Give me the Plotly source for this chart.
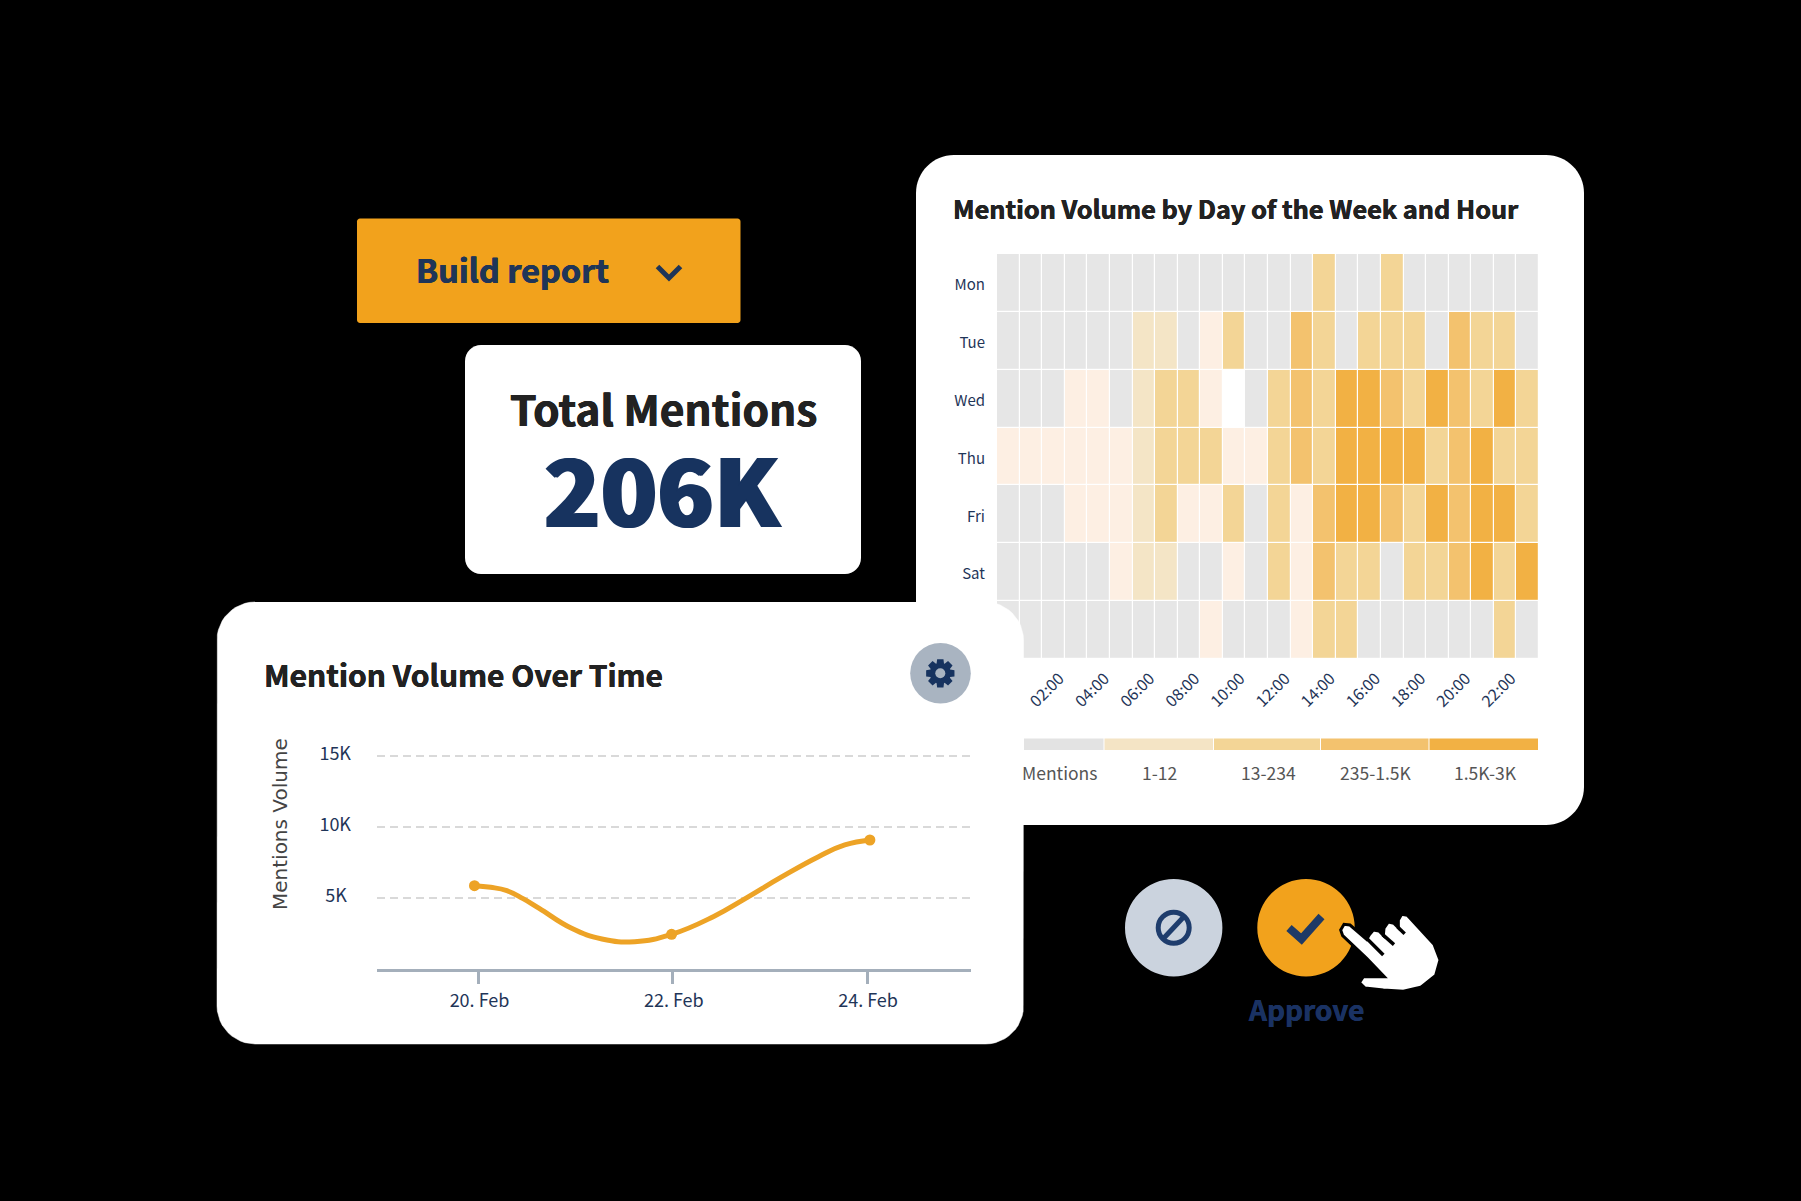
import math
import plotly.graph_objects as go

W, H = 1801, 1201
FONT = "Noto Sans CJK SC"
NAVY = "#1F3558"
DARK_NAVY = "#17335F"
INK = "#222222"
ORANGE = "#F2A21C"

# ---- heatmap data: colour class per hour (-1 none, 0 no mentions, 1 trace, 2..5 legend classes)
days = ["Mon", "Tue", "Wed", "Thu", "Fri", "Sat", "Sun"]
hours = list(range(24))
mon = [0,0,0,0,0,0,0,0,0,0,0,0,0,0,3,0,0,3,0,0,0,0,0,0]
tue = [0,0,0,0,0,0,2,2,0,1,3,0,0,4,3,0,3,3,3,0,4,3,3,0]
wed = [0,0,0,1,1,0,2,3,3,1,-1,0,3,4,3,5,5,4,3,5,4,3,5,3]
thu = [1,1,1,1,1,1,2,3,3,3,1,1,3,4,3,5,5,5,5,3,4,5,3,3]
fri = [0,0,0,1,1,1,2,3,1,1,3,0,3,1,4,5,5,4,3,5,4,5,5,3]
sat = [0,0,0,0,0,1,2,2,0,0,1,0,3,1,4,3,3,0,3,3,4,5,3,5]
sun = [0,0,0,0,0,0,0,0,0,1,0,0,0,1,3,3,0,0,0,0,0,0,3,0]
class_colors = ["#FFFFFF", "#E6E6E6", "#FDEFE3", "#F4E5C6", "#F3D596", "#F3C26E", "#F2B144"]
shown_days = ["Mon", "Tue", "Wed", "Thu", "Fri", "Sat"]
hour_ticks = [2, 4, 6, 8, 10, 12, 14, 16, 18, 20, 22]
hour_labels = ["02:00", "04:00", "06:00", "08:00", "10:00", "12:00", "14:00", "16:00", "18:00", "20:00", "22:00"]

# ---- heatmap legend
legend_labels = ["Mentions", "1-12", "13-234", "235-1.5K", "1.5K-3K"]
legend_colors = ["#E3E3E3", "#F4E4C5", "#F3D596", "#F3C26E", "#F2B144"]

# ---- line chart data
line_dates = ["2024-02-19 23:00", "2024-02-20 03:00", "2024-02-20 07:00", "2024-02-20 11:00",
              "2024-02-20 15:00", "2024-02-20 23:00",
              "2024-02-21 06:30", "2024-02-21 14:36", "2024-02-21 23:42", "2024-02-22 10:00",
              "2024-02-22 18:00", "2024-02-23 03:00", "2024-02-23 12:00", "2024-02-23 18:30",
              "2024-02-24 00:42"]
line_values = [5873, 5758, 5522, 4960, 4281, 2878, 2128, 1940, 2455, 3696, 4985, 6505, 7909, 8730, 9080]
marker_dates = ["2024-02-19 23:00", "2024-02-21 23:42", "2024-02-24 00:42"]
marker_values = [5873, 2455, 9080]
date_ticks = ["2024-02-20", "2024-02-22", "2024-02-24"]
value_ticks = [5000, 10000, 15000]
value_labels = ["5K\u00a0", "10K", "15K"]


def px(x):
    return x / W


def py(y):
    return 1 - y / H


def rr_points(x0, y0, x1, y1, r):
    """Rounded rectangle as a path string in paper coordinates."""
    k = 0.45 * r
    seq = [
        ("M", (x0 + r, y0)), ("L", (x1 - r, y0)),
        ("C", (x1 - k, y0), (x1, y0 + k), (x1, y0 + r)), ("L", (x1, y1 - r)),
        ("C", (x1, y1 - k), (x1 - k, y1), (x1 - r, y1)), ("L", (x0 + r, y1)),
        ("C", (x0 + k, y1), (x0, y1 - k), (x0, y1 - r)), ("L", (x0, y0 + r)),
        ("C", (x0, y0 + k), (x0 + k, y0), (x0 + r, y0)),
    ]
    return seq


def to_path(seq, close=True):
    out = []
    for item in seq:
        cmd, pts = item[0], item[1:]
        out.append(cmd + " " + " ".join(f"{px(a):.5f},{py(b):.5f}" for a, b in pts))
    return " ".join(out) + (" Z" if close else "")


def poly(points, close=True):
    seq = [("M", points[0])] + [("L", p) for p in points[1:]]
    return to_path(seq, close)


def card(x0, y0, x1, y1, r, color, layer="below"):
    return dict(type="path", xref="paper", yref="paper", path=to_path(rr_points(x0, y0, x1, y1, r)),
                fillcolor=color, line=dict(width=0), layer=layer)


def circle(cx, cy, r, color, line=None):
    return dict(type="circle", xref="paper", yref="paper", x0=px(cx - r), x1=px(cx + r),
                y0=py(cy + r), y1=py(cy - r), fillcolor=color,
                line=line or dict(width=0), layer="above")


def stroke(points, color, width):
    return dict(type="path", xref="paper", yref="paper", path=poly(points, close=False),
                line=dict(color=color, width=width), layer="above")


def text(x, y, s, size, color=INK, weight=400, anchor="center", family=FONT, angle=0, shadow=None):
    font = dict(family=family, size=size, color=color, weight=weight)
    if shadow:
        font["shadow"] = f"{shadow}px 0 0 {color}, -{shadow}px 0 0 {color}"
    return dict(x=px(x), y=py(y), xref="paper", yref="paper", text=s, showarrow=False,
                xanchor=anchor, yanchor="middle", textangle=angle, font=font)


fig = go.Figure()

# heatmap (first subplot)
fig.add_trace(go.Heatmap(
    z=[mon, tue, wed, thu, fri, sat, sun], x=hours, y=days,
    zmin=-1.5, zmax=5.5, showscale=False, xgap=1.2, ygap=1.2, hoverinfo="skip",
    colorscale=[v for i, c in enumerate(class_colors)
                for v in ([i / 7, c], [(i + 1) / 7, c])],
    xaxis="x", yaxis="y"))

# white card of the line chart, drawn on a pixel-scaled overlay so it hides the heatmap corner
cx0, cy0, cx1, cy1, cr = 217, 602, 1023.5, 1044, 38
k = 0.45 * cr
card_x, card_y = [], []
for (bx, by), (c1x, c1y), (c2x, c2y), (dx, dy) in [
    ((cx1 - cr, cy0), (cx1 - k, cy0), (cx1, cy0 + k), (cx1, cy0 + cr)),
    ((cx1, cy1 - cr), (cx1, cy1 - k), (cx1 - k, cy1), (cx1 - cr, cy1)),
    ((cx0 + cr, cy1), (cx0 + k, cy1), (cx0, cy1 - k), (cx0, cy1 - cr)),
    ((cx0, cy0 + cr), (cx0, cy0 + k), (cx0 + k, cy0), (cx0 + cr, cy0)),
]:
    for n in range(13):
        t = n / 12
        card_x.append((1-t)**3*bx + 3*(1-t)**2*t*c1x + 3*(1-t)*t*t*c2x + t**3*dx)
        card_y.append((1-t)**3*by + 3*(1-t)**2*t*c1y + 3*(1-t)*t*t*c2y + t**3*dy)
fig.add_trace(go.Scatter(x=card_x, y=card_y, fill="toself", fillcolor="#FFFFFF", mode="lines",
                         line=dict(color="#FFFFFF", width=0.5), hoverinfo="skip", showlegend=False,
                         xaxis="x2", yaxis="y2"))

# line chart
fig.add_trace(go.Scatter(x=line_dates, y=line_values, mode="lines",
                         line=dict(color="#EDA326", width=5, shape="spline", smoothing=1.3),
                         hoverinfo="skip", showlegend=False, xaxis="x3", yaxis="y3"))
fig.add_trace(go.Scatter(x=marker_dates, y=marker_values, mode="markers",
                         marker=dict(color="#EDA326", size=11), hoverinfo="skip",
                         showlegend=False, xaxis="x3", yaxis="y3"))

shapes = [
    card(916, 155, 1584, 825, 38, "#FFFFFF"),
    card(357, 218.5, 740.5, 323, 3, ORANGE),
    card(465, 345, 861, 574, 16, "#FFFFFF"),
]

# heatmap legend bars
edges = [1024, 1104.5, 1214, 1321, 1429.5, 1539]
for i, c in enumerate(legend_colors):
    shapes.append(dict(type="rect", xref="paper", yref="paper", x0=px(edges[i]), x1=px(edges[i + 1] - 1),
                       y0=py(750), y1=py(738.5), fillcolor=c, line=dict(width=0), layer="below"))

# build-report chevron
shapes.append(stroke([(657.5, 266.5), (669, 278), (680.5, 266.5)], NAVY, 5))

# settings button + gear icon
shapes.append(circle(940.5, 673.3, 30.3, "#A9B4C1"))
gear = []
for i in range(8):
    a = i * math.pi / 4 - math.pi / 2
    for da, rad in [(-0.36, 10.5), (-0.22, 14.5), (0.22, 14.5), (0.36, 10.5)]:
        gear.append((940.3 + rad * math.cos(a + da), 673.3 + rad * math.sin(a + da)))
shapes.append(dict(type="path", xref="paper", yref="paper", path=poly(gear), fillcolor="#17335F",
                   line=dict(width=0), layer="above"))
shapes.append(circle(940.3, 673.3, 5, "#A9B4C1"))

# reject button
shapes.append(circle(1173.7, 927.7, 48.7, "#CBD3DE"))
shapes.append(circle(1173.7, 927.7, 15.5, "rgba(0,0,0,0)", dict(color="#1F3D6D", width=5)))
shapes.append(stroke([(1163, 939), (1184.5, 916)], "#1F3D6D", 5))

# approve button
shapes.append(circle(1306, 927.7, 48.7, ORANGE))
shapes.append(stroke([(1289, 928), (1301.5, 939), (1321.5, 916.5)], "#1E3A66", 8))

# pointing hand: white outline with a black halo, then the slits between the fingers
hand = [(62, 90), (72, 73), (90, 75), (140, 118), (148, 104), (160, 90), (177, 93), (190, 106),
        (192, 84), (205, 66), (222, 70), (235, 83), (235, 60), (245, 43), (262, 46), (342, 133),
        (360, 180), (347, 226), (302, 262), (250, 274), (190, 270), (135, 264), (118, 248),
        (130, 230), (193, 230), (140, 175), (68, 107)]
hand_slits = [[(142, 117), (190, 165)], [(188, 104), (222, 134)], [(233, 81), (254, 101)]]


def hand_px(points):
    return [(1320 + a / 3, 900 + b / 3) for a, b in points]


shapes.append(dict(type="path", xref="paper", yref="paper", path=poly(hand_px(hand)), fillcolor="#FFFFFF",
                   line=dict(color="#000000", width=3), layer="above"))
for slit in hand_slits:
    shapes.append(stroke(hand_px(slit), "#000000", 3.5))

annotations = [
    text(512.5, 268.7, "Build report", 32.5, NAVY, 700, shadow=0.4),
    text(663, 407, "Total Mentions", 42.5, INK, 700, shadow=0.4),
    text(662, 486.5, "206K", 93, DARK_NAVY, 900, shadow=1.5),
    text(951, 208, "Mention Volume by Day of the Week and Hour", 25.3, INK, 700, "left", shadow=0.3),
    text(261.5, 673.7, "Mention Volume Over Time", 30, INK, 700, "left", shadow=0.3),
    text(280, 824, "Mentions Volume", 20, "#444444", 400, "center", "DejaVu Sans", -90),
    text(1306, 1009, "Approve", 28, "#1A3263", 700, shadow=0.3),
    text(1019.5, 772.7, legend_labels[0], 17.5, "#555555", 400, "left"),
]
for label, cx in zip(legend_labels[1:], [1159, 1268, 1376, 1485]):
    annotations.append(text(cx, 772.7, label, 17.5, "#555555"))

hidden = dict(visible=False, automargin=False)
fig.update_layout(
    width=W, height=H, autosize=False,
    margin=dict(l=0, r=0, t=0, b=0, autoexpand=False),
    paper_bgcolor="#000000", plot_bgcolor="rgba(0,0,0,0)",
    showlegend=False, shapes=shapes, annotations=annotations,
    xaxis=dict(domain=[px(997), px(1539)], range=[-0.5, 23.5], tickmode="array", automargin=False,
               tickvals=hour_ticks, ticktext=hour_labels, tickangle=-45, ticks="",
               ticklabelshift=6, ticklabelstandoff=6,
               showgrid=False, zeroline=False, showline=False, anchor="y",
               tickfont=dict(family=FONT, size=16, color=NAVY)),
    yaxis=dict(domain=[py(659), py(254)], autorange="reversed", type="category", automargin=False,
               categoryorder="array", categoryarray=days, tickmode="array",
               tickvals=shown_days, ticktext=shown_days, ticks="", showgrid=False, zeroline=False,
               ticklabelstandoff=11, ticklabelshift=-2,
               showline=False, anchor="x", tickfont=dict(family=FONT, size=15, color=NAVY)),
    xaxis2=dict(domain=[0, 1], range=[0, W], anchor="y2", **hidden),
    yaxis2=dict(domain=[0, 1], range=[H, 0], anchor="x2", **hidden),
    xaxis3=dict(domain=[px(377), px(971)], type="date", automargin=False,
                range=["2024-02-18 22:55", "2024-02-25 01:41"], anchor="y3", tickmode="array",
                tickvals=date_ticks, tickformat="%d. %b", showgrid=False, zeroline=False,
                showline=True, linecolor="#A4AFBB", linewidth=3,
                ticks="outside", ticklen=12, tickwidth=3, tickcolor="#A4AFBB",
                ticklabelshift=1, ticklabelstandoff=1,
                tickfont=dict(family=FONT, size=18, color=NAVY)),
    yaxis3=dict(domain=[py(969.3), py(720)], range=[0, 17507], anchor="x3", tickmode="array",
                automargin=False,
                tickvals=value_ticks, ticktext=value_labels, showgrid=True, gridcolor="#D9D9D9",
                griddash="8px,5px", gridwidth=2, zeroline=False, showline=False, ticks="",
                ticklabelstandoff=25, ticklabelshift=-2, tickfont=dict(family=FONT, size=18, color=NAVY)),
)

fig.write_html("out.html", config=dict(displayModeBar=False),
               post_script="document.body.style.margin='0';document.body.style.background='#000';"
                           "document.documentElement.style.overflow='hidden';")
